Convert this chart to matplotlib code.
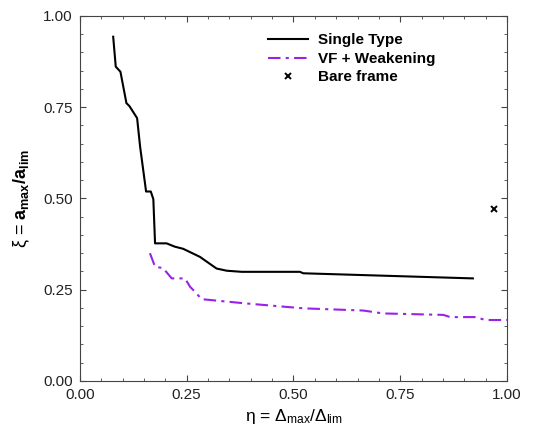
import matplotlib.pyplot as plt
from matplotlib.ticker import MultipleLocator

plt.rcParams['font.family'] = ['Liberation Sans', 'DejaVu Sans']
plt.rcParams['mathtext.fontset'] = 'custom'
plt.rcParams['mathtext.rm'] = 'Liberation Sans'
plt.rcParams['mathtext.it'] = 'Liberation Sans:italic'
plt.rcParams['mathtext.bf'] = 'Liberation Sans:bold'

# Single Type curve
single_eta = [0.078, 0.084, 0.095, 0.109, 0.116, 0.134, 0.141, 0.155, 0.166, 0.172,
              0.176, 0.203, 0.222, 0.242, 0.281, 0.320, 0.344, 0.379, 0.515, 0.523, 0.920]
single_xi = [0.943, 0.861, 0.847, 0.761, 0.753, 0.720, 0.642, 0.519, 0.519, 0.498,
             0.377, 0.377, 0.368, 0.362, 0.340, 0.308, 0.302, 0.299, 0.299, 0.295, 0.281]

# VF + Weakening curve
vf_eta = [0.164, 0.176, 0.195, 0.215, 0.246, 0.258, 0.269, 0.285, 0.304, 0.383,
          0.453, 0.523, 0.663, 0.710, 0.851, 0.867, 0.929, 0.948, 1.0]
vf_xi = [0.350, 0.313, 0.309, 0.281, 0.281, 0.258, 0.245, 0.224, 0.222, 0.213,
         0.206, 0.199, 0.193, 0.185, 0.181, 0.175, 0.175, 0.167, 0.167]

# Bare frame point
bare_eta = [0.970]
bare_xi = [0.471]

fig = plt.figure(figsize=(5.36, 4.30), dpi=100)
ax = fig.add_axes([0.149, 0.114, 0.797, 0.849])

ax.plot(single_eta, single_xi, color='black', lw=1.5, label='Single Type')
ax.plot(vf_eta, vf_xi, color='#9a22e6', lw=1.5, ls=(0, (6, 2.5, 1.5, 2.5)), label='VF + Weakening')
ax.plot(bare_eta, bare_xi, ls='none', marker='x', color='black', ms=5, mew=1.4, label='Bare frame')

ax.set_xlim(0, 1)
ax.set_ylim(0, 1)
ax.xaxis.set_major_locator(MultipleLocator(0.25))
ax.yaxis.set_major_locator(MultipleLocator(0.25))
ax.xaxis.set_minor_locator(MultipleLocator(0.05))
ax.yaxis.set_minor_locator(MultipleLocator(0.05))
ax.xaxis.set_major_formatter(plt.FormatStrFormatter('%.2f'))
ax.yaxis.set_major_formatter(plt.FormatStrFormatter('%.2f'))
ax.tick_params(which='both', direction='in', top=True, right=True, labelsize=11,
               color='#444444', labelcolor='#222222')
ax.tick_params(which='major', length=4, pad=5)
ax.tick_params(which='minor', length=2.5)
for s in ax.spines.values():
    s.set_color('#444444')

ax.set_xlabel('η = Δ$_{\\mathrm{max}}$/Δ$_{\\mathrm{lim}}$', fontsize=12.5, labelpad=4)
ax.set_ylabel('ξ = $\\mathbf{a_{max}/a_{lim}}$', fontsize=13, labelpad=8)

leg = ax.legend(loc='upper right', bbox_to_anchor=(0.865, 0.99), frameon=False,
                prop={'weight': 'bold', 'size': 11}, handlelength=2.6,
                handletextpad=0.7, labelspacing=0.3)

fig.savefig('out.png', dpi=100)
